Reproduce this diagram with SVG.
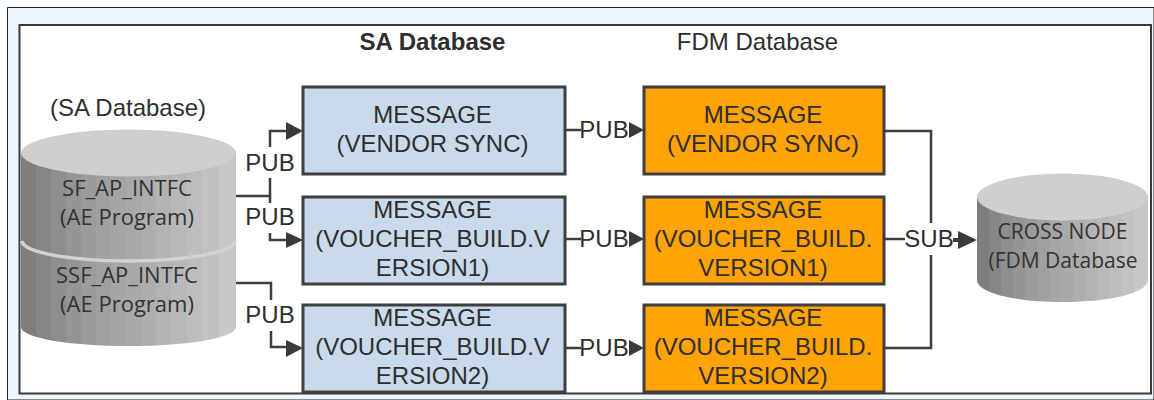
<svg xmlns="http://www.w3.org/2000/svg" width="1154" height="400" viewBox="0 0 1154 400">
<style>
text{font-family:"Liberation Sans",Arial,sans-serif;font-size:24px;fill:#2e2e2e;text-anchor:middle}
.c{font-family:"Open Sans","Noto Sans",sans-serif;font-size:22px;fill:#333}
.n{font-size:21px}
.b{fill:#c9daec;stroke:#3f3f3f;stroke-width:3}
.o{fill:#ffa307;stroke:#3f3f3f;stroke-width:3}
.l{fill:none;stroke:#3f3f3f;stroke-width:2.500}
.a{fill:#3a3a3a}
.t{fill:#cfcfcf}
.s{fill:url(#g)}
</style>
<defs>
<linearGradient id="g" x1="0" x2="1" y1="0" y2="0">
<stop offset="0" stop-color="#7e7e7e"/><stop offset=".07" stop-color="#7e7e7e"/>
<stop offset=".07" stop-color="#868686"/><stop offset=".14" stop-color="#868686"/>
<stop offset=".14" stop-color="#8e8e8e"/><stop offset=".21" stop-color="#8e8e8e"/>
<stop offset=".21" stop-color="#959595"/><stop offset=".28" stop-color="#959595"/>
<stop offset=".28" stop-color="#9b9b9b"/><stop offset=".35" stop-color="#9b9b9b"/>
<stop offset=".35" stop-color="#a0a0a0"/><stop offset=".42" stop-color="#a0a0a0"/>
<stop offset=".42" stop-color="#a5a5a5"/><stop offset=".49" stop-color="#a5a5a5"/>
<stop offset=".49" stop-color="#a9a9a9"/><stop offset=".56" stop-color="#a9a9a9"/>
<stop offset=".56" stop-color="#aeaeae"/><stop offset=".63" stop-color="#aeaeae"/>
<stop offset=".63" stop-color="#b3b3b3"/><stop offset=".7" stop-color="#b3b3b3"/>
<stop offset=".7" stop-color="#b8b8b8"/><stop offset=".77" stop-color="#b8b8b8"/>
<stop offset=".77" stop-color="#bdbdbd"/><stop offset=".84" stop-color="#bdbdbd"/>
<stop offset=".84" stop-color="#c2c2c2"/><stop offset=".92" stop-color="#c2c2c2"/>
<stop offset=".92" stop-color="#c8c8c8"/><stop offset="1" stop-color="#c8c8c8"/>
</linearGradient>
</defs>
<rect x="0" y="0" width="1154" height="400" fill="#fff"/>
<path d="M7.500 400V7.500H1154V400Z" fill="#eef6fd" stroke="#222" stroke-width="1"/>
<rect x="19.500" y="25" width="1131.500" height="368.500" fill="#fff" stroke="#3a3a3a" stroke-width="2"/>
<g id="label-sa"><text x="128" y="116">(SA Database)</text></g>
<g id="label-sa-bold"><text x="432.500" y="50" style="font-weight:bold">SA Database</text></g>
<g id="label-fdm"><text x="757.500" y="50">FDM Database</text></g>
<g id="db-ssf">
<path class="s" d="M21 240V327C21 338 69 346 128.500 346S236 338 236 327V240Z"/>
</g>
<g id="db-sf">
<path class="s" d="M21 153V240C21 251 69 261 128.500 261S236 251 236 240V153Z"/>
<path d="M22 241C23 252 69 261 128.500 261S234 252 235 241" fill="none" stroke="#d2d2d2" stroke-width="3.500"/>
<ellipse class="t" cx="128.500" cy="153" rx="107.500" ry="23.500"/>
<text class="c" x="127" y="196">SF_AP_INTFC</text>
<text class="c" x="127" y="225">(AE Program)</text>
<text class="c" x="127" y="283">SSF_AP_INTFC</text>
<text class="c" x="127" y="312">(AE Program)</text>
</g>
<g id="db-cross">
<path class="s" d="M977 197V280C977 293 1015 302 1062.500 302S1148 293 1148 280V197Z"/>
<ellipse class="t" cx="1062.500" cy="197" rx="85.500" ry="23.500"/>
<text class="c n" x="1062.500" y="239">CROSS NODE</text>
<text class="c n" x="1063" y="268">(FDM Database</text>
</g>
<g id="connectors">
<path class="l" d="M236 196H270V178M270 147V131H288"/>
<path class="l" d="M270 196V203M270 233V240H288"/>
<path class="l" d="M236 283H271V300M271 331V347H288"/>
<path class="l" d="M566 130H581M566 239H581M566 348H581"/>
<path class="l" d="M885 131H931V223M931 255V348H885M885 239H905"/>
<path class="a" d="M286 122L303 131L286 140ZM286 232L303 240L286 248ZM286 340L303 348L286 357ZM629 122L644 130L629 138ZM629 231L644 239L629 247ZM629 340L644 348L629 356ZM958 231L977 240L958 249ZM953 238H960V242H953Z"/>
<text x="270" y="171">PUB</text>
<text x="270" y="225">PUB</text>
<text x="270" y="323">PUB</text>
<text x="604" y="138">PUB</text>
<text x="604" y="247">PUB</text>
<text x="604" y="356">PUB</text>
<text x="929" y="247">SUB</text>
</g>
<g id="msg-sa-1"><rect class="b" x="303" y="87" width="262" height="87"/><text x="432.500" y="123">MESSAGE</text><text x="432.500" y="152">(VENDOR SYNC)</text></g>
<g id="msg-sa-2"><rect class="b" x="303" y="197" width="262" height="87"/><text x="432.500" y="218">MESSAGE</text><text x="432.500" y="247">(VOUCHER_BUILD.V</text><text x="432.500" y="276">ERSION1)</text></g>
<g id="msg-sa-3"><rect class="b" x="303" y="305" width="262" height="87"/><text x="432.500" y="326">MESSAGE</text><text x="432.500" y="355">(VOUCHER_BUILD.V</text><text x="432.500" y="384">ERSION2)</text></g>
<g id="msg-fdm-1"><rect class="o" x="644" y="87" width="240" height="87"/><text x="763" y="123">MESSAGE</text><text x="763" y="152">(VENDOR SYNC)</text></g>
<g id="msg-fdm-2"><rect class="o" x="644" y="197" width="240" height="87"/><text x="763" y="218">MESSAGE</text><text x="763" y="247">(VOUCHER_BUILD.</text><text x="763" y="276">VERSION1)</text></g>
<g id="msg-fdm-3"><rect class="o" x="644" y="305" width="240" height="87"/><text x="763" y="326">MESSAGE</text><text x="763" y="355">(VOUCHER_BUILD.</text><text x="763" y="384">VERSION2)</text></g>
</svg>
